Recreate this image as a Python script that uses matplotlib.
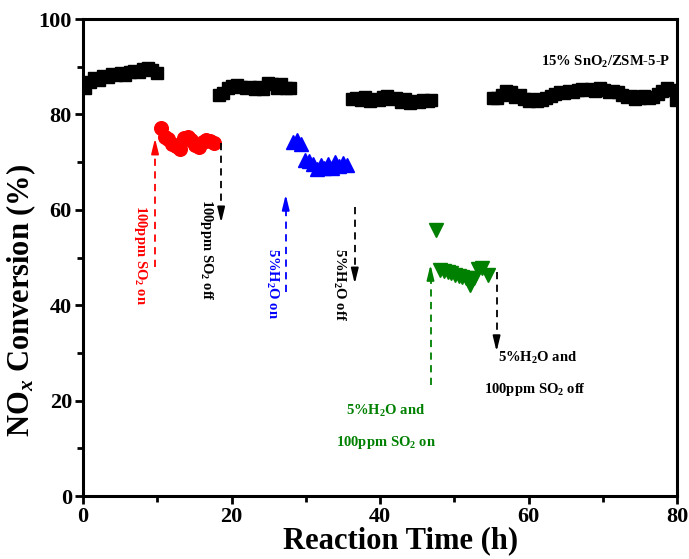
import matplotlib
matplotlib.use("Agg")
import matplotlib.pyplot as plt
from matplotlib.ticker import MultipleLocator

plt.rcParams["font.family"] = ["Liberation Serif", "DejaVu Serif"]
plt.rcParams["font.weight"] = "bold"
plt.rcParams["mathtext.fontset"] = "custom"
plt.rcParams["mathtext.rm"] = "Liberation Serif:bold"
plt.rcParams["mathtext.it"] = "Liberation Serif:bold:italic"
plt.rcParams["mathtext.bf"] = "Liberation Serif:bold"

# black squares: no poison (four stretches)
fresh_t = [0.3, 0.9, 1.5, 2.1, 2.7, 3.3, 3.9, 4.5, 5.1, 5.7, 6.3, 6.9, 7.5, 8.1, 8.7, 9.3, 9.9,
           18.3, 18.9, 19.5, 20.1, 20.7, 21.3, 21.9, 22.5, 23.1, 23.7, 24.3, 24.9, 25.5, 26.1, 26.7, 27.3, 27.9,
           36.2, 36.8, 37.4, 38.0, 38.6, 39.2, 39.8, 40.4, 41.0, 41.6, 42.2, 42.8, 43.4, 44.0, 44.6, 45.2, 45.8, 46.4, 46.9,
           55.2, 55.8, 56.4, 57.0, 57.6, 58.2, 58.8, 59.4, 60.0, 60.6, 61.2, 61.8, 62.4, 63.0, 63.6, 64.2, 64.8,
           65.4, 66.0, 66.6, 67.2, 67.8, 68.4, 69.0, 69.6, 70.2, 70.8, 71.4, 72.0, 72.6, 73.2, 73.8, 74.4, 75.0,
           75.6, 76.2, 76.8, 77.4, 78.0, 78.6, 79.2, 79.8]
fresh_y = [85.5, 86.8, 87.6, 87.3, 88.0, 87.9, 88.4, 88.2, 88.6, 88.3, 88.9, 89.2, 88.8, 89.6, 89.8, 89.4, 88.7,
           84.0, 84.5, 85.6, 85.9, 86.2, 85.7, 85.6, 85.8, 85.4, 85.7, 85.3, 86.6, 86.4, 85.5, 86.3, 85.6, 85.5,
           83.2, 83.5, 83.0, 83.6, 82.8, 83.3, 83.0, 83.6, 83.9, 83.2, 83.4, 82.6, 83.3, 82.4, 82.9, 82.6, 83.1, 82.8, 83.1,
           83.5, 83.4, 84.1, 84.9, 84.6, 83.6, 84.1, 83.2, 82.8, 83.3, 82.9, 83.0, 83.5, 83.8, 84.3, 84.7, 84.5,
           85.0, 84.8, 85.2, 85.4, 85.1, 85.3, 84.9, 85.6, 85.2, 84.8, 85.0, 84.6, 84.0, 83.6, 83.8, 83.3, 83.4,
           83.9, 83.5, 83.7, 84.3, 84.9, 85.6, 85.2, 83.0]

so2_t = [10.5, 11.0, 11.5, 12.0, 12.5, 13.1, 13.6, 14.1, 14.6, 15.1, 15.6, 16.1, 16.6, 17.1, 17.6]
so2_y = [77.2, 75.3, 74.8, 73.9, 73.4, 72.8, 75.0, 75.3, 74.6, 73.6, 73.2, 74.2, 74.6, 74.4, 74.1]

h2o_t = [28.3, 28.8, 29.4, 29.9, 30.5, 31.0, 31.5, 32.0, 32.5, 33.0, 33.5, 34.0, 34.5, 35.0, 35.5]
h2o_y = [74.2, 74.6, 73.9, 70.5, 70.2, 69.6, 68.5, 69.4, 68.8, 69.7, 68.7, 70.0, 69.2, 69.8, 69.3]

mix_t = [47.5, 48.1, 48.6, 49.1, 49.6, 50.1, 50.6, 51.1, 51.6, 52.1, 52.6, 53.2, 53.8, 54.5]
mix_y = [55.8, 47.3, 47.1, 46.9, 46.7, 46.4, 46.2, 46.0, 45.6, 44.3, 45.8, 47.6, 47.9, 46.3]

fig = plt.figure(figsize=(6.89, 5.59), dpi=100)
ax = fig.add_axes([0.1205, 0.1127, 0.8621, 0.8533])

ax.plot(fresh_t, fresh_y, "s", color="black", ms=8.8, mec="black")
ax.plot(so2_t, so2_y, "o", color="red", ms=9.8, mec="red")
ax.plot(h2o_t, h2o_y, "^", color="blue", ms=9.5, mec="blue")
ax.plot(mix_t, mix_y, "v", color="green", ms=9.5, mec="green")


def dashed_arrow(x, y0, y1, color):
    # dashed shaft plus a solid head at y1
    step = 2.0 if y1 > y0 else -2.0
    ax.plot([x, x], [y0, y1 - step], ls=(0, (4, 3)), color=color, lw=1.3)
    ax.annotate("", xy=(x, y1), xytext=(x, y1 - step),
                arrowprops=dict(arrowstyle="-|>,head_length=0.9,head_width=0.22",
                                color=color, lw=1.3, shrinkA=0, shrinkB=0))


dashed_arrow(9.7, 48.0, 75.0, "red")
dashed_arrow(18.6, 74.0, 57.3, "black")
dashed_arrow(27.3, 42.8, 63.2, "blue")
dashed_arrow(36.6, 60.5, 44.5, "black")
dashed_arrow(46.8, 23.2, 48.5, "green")
dashed_arrow(55.7, 47.0, 30.3, "black")

tk = dict(fontsize=10.5, fontweight="bold", ha="center", va="center")
ax.text(7.7, 50.5, r"100ppm SO$_2$ on", color="red", rotation=-90, **tk)
ax.text(16.6, 51.5, r"100ppm SO$_2$ off", color="black", rotation=-90, **tk)
ax.text(25.4, 44.6, r"5%H$_2$O on", color="blue", rotation=-90, **tk)
ax.text(34.5, 44.4, r"5%H$_2$O off", color="black", rotation=-90, **tk)
ax.text(40.8, 17.8, r"5%H$_2$O and", color="green", **tk)
ax.text(40.8, 11.3, r"100ppm SO$_2$ on", color="green", **tk)
ax.text(61.3, 29.0, r"5%H$_2$O and", color="black", **tk)
ax.text(60.9, 22.4, r"100ppm SO$_2$ off", color="black", **tk)
ax.text(70.4, 91.0, r"15% SnO$_2$/ZSM-5-P", color="black", **tk)

ax.set_xlim(0, 80)
ax.set_ylim(0, 100)
ax.xaxis.set_major_locator(MultipleLocator(20))
ax.xaxis.set_minor_locator(MultipleLocator(10))
ax.yaxis.set_major_locator(MultipleLocator(20))
ax.yaxis.set_minor_locator(MultipleLocator(10))
ax.tick_params(which="major", direction="out", length=6, width=2, labelsize=16, pad=2)
ax.tick_params(which="minor", direction="out", length=4, width=2)
for lab in ax.get_xticklabels() + ax.get_yticklabels():
    lab.set_fontweight("bold")
for sp in ax.spines.values():
    sp.set_linewidth(2.2)

ax.set_xlabel("Reaction Time (h)", fontsize=22, fontweight="bold")
ax.set_ylabel(r"NO$_x$ Conversion (%)", fontsize=22, fontweight="bold")
ax.xaxis.set_label_coords(0.535, -0.063)
ax.yaxis.set_label_coords(-0.075, 0.41)

fig.savefig("out.png", dpi=100)
